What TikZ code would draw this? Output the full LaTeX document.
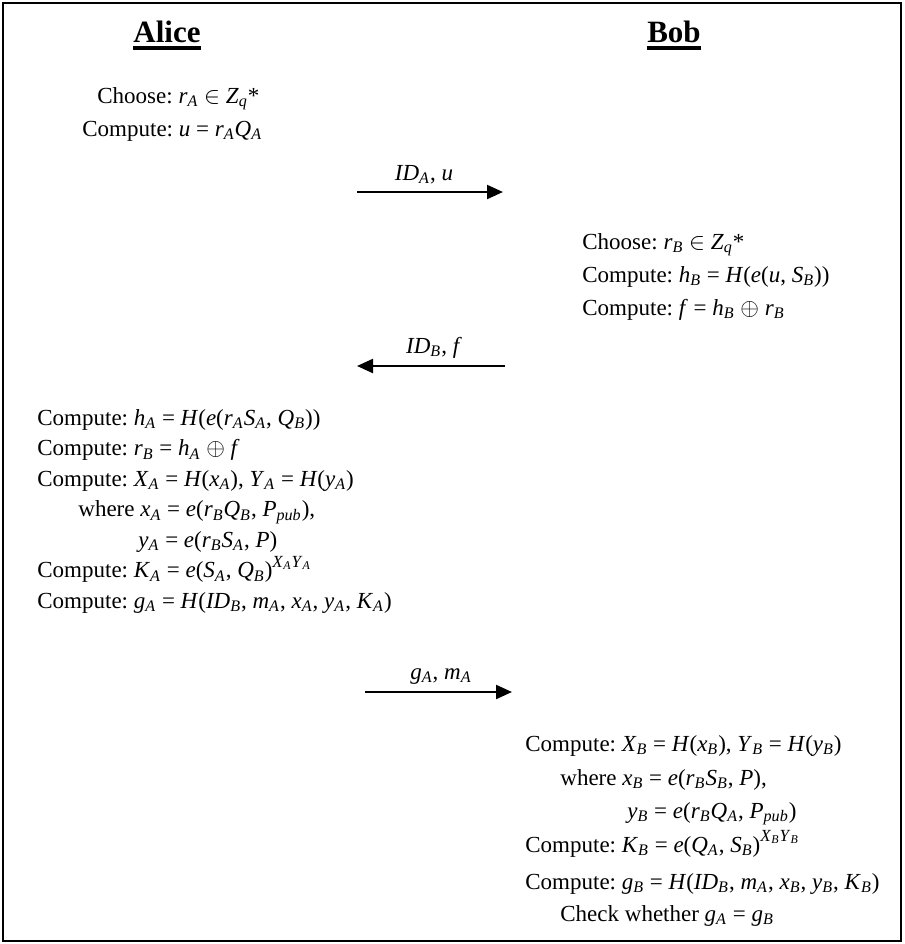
\documentclass[tikz,border=0pt]{standalone}
\usepackage{fontspec}
\setmainfont{Liberation Serif}
\usepackage{tikz}
\usetikzlibrary{arrows.meta}

\newcommand{\vs}[2]{\textit{#1}\textsubscript{\textit{#2}}}
\newcommand{\vi}[1]{\textit{#1}}
\newcommand{\supx}[1]{\raisebox{0.45em}{\fontsize{8.5}{9}\selectfont #1}}
\frenchspacing

\begin{document}
\begin{tikzpicture}[
    x=0.5pt,
    y=-0.5pt,
    head/.style={anchor=base, inner sep=0pt, font=\fontsize{15.5}{18}\selectfont\bfseries},
    txt/.style={anchor=base west, inner sep=0pt, font=\fontsize{11.5}{14}\selectfont},
    lbl/.style={anchor=base, inner sep=0pt, font=\fontsize{11.5}{14}\selectfont},
    msg/.style={-{Triangle[length=8pt, width=7pt]}, line width=1.1pt},
    uline/.style={line width=2pt}
]
\useasboundingbox (0,0) rectangle (905,944);
\draw[line width=0.75pt] (3,3) rectangle (901,941);

\node[head] (alice) at (167,42) {Alice};
\node[head] (bob) at (674,42) {Bob};
\draw[uline] ([yshift=-3pt]alice.base west) -- ([yshift=-3pt]alice.base east);
\draw[uline] ([yshift=-3pt]bob.base west) -- ([yshift=-3pt]bob.base east);

\node[txt] (chooseA) at (97,103) {Choose: \vs{r}{A} $\in$ \vs{Z}{q}*};
\node[txt] (computeU) at (82,136) {Compute: \vi{u} = \vs{r}{A}\vs{Q}{A}};

\coordinate (m1s) at (357,192);
\coordinate (m1e) at (503,192);
\draw[msg] (m1s) -- (m1e);
\node[lbl] (m1) at (424,180) {\vs{ID}{A}, \vi{u}};

\node[txt] (chooseB) at (582,249) {Choose: \vs{r}{B} $\in$ \vs{Z}{q}*};
\node[txt] (computeHB) at (582,282) {Compute: \vs{h}{B} = \vi{H}(\vi{e}(\vi{u}, \vs{S}{B}))};
\node[txt] (computeF) at (582,315) {Compute: \vi{f} = \vs{h}{B} $\oplus$ \vs{r}{B}};

\coordinate (m2s) at (505,366);
\coordinate (m2e) at (357,366);
\draw[msg] (m2s) -- (m2e);
\node[lbl] (m2) at (434,353) {\vs{ID}{B}, \vi{f}};

\node[txt] (computeHA) at (37,425) {Compute: \vs{h}{A} = \vi{H}(\vi{e}(\vs{r}{A}\vs{S}{A}, \vs{Q}{B}))};
\node[txt] (computeRB) at (37,455.5) {Compute: \vs{r}{B} = \vs{h}{A} $\oplus$ \vi{f}};
\node[txt] (computeXA) at (37,486) {Compute: \vs{X}{A} = \vi{H}(\vs{x}{A}), \vs{Y}{A} = \vi{H}(\vs{y}{A})};
\node[txt] (whereXA) at (78,516.5) {where \vs{x}{A} = \vi{e}(\vs{r}{B}\vs{Q}{B}, \vs{P}{pub}),};
\node[txt] (whereYA) at (138,547) {\vs{y}{A} = \vi{e}(\vs{r}{B}\vs{S}{A}, \vi{P})};
\node[txt] (computeKA) at (37,577.5) {Compute: \vs{K}{A} = \vi{e}(\vs{S}{A}, \vs{Q}{B})\supx{\vs{X}{A}\vs{Y}{A}}};
\node[txt] (computeGA) at (37,608) {Compute: \vs{g}{A} = \vi{H}(\vs{ID}{B}, \vs{m}{A}, \vs{x}{A}, \vs{y}{A}, \vs{K}{A})};

\coordinate (m3s) at (365,692);
\coordinate (m3e) at (512,692);
\draw[msg] (m3s) -- (m3e);
\node[lbl] (m3) at (441,679) {\vs{g}{A}, \vs{m}{A}};

\node[txt] (computeXB) at (525,751) {Compute: \vs{X}{B} = \vi{H}(\vs{x}{B}), \vs{Y}{B} = \vi{H}(\vs{y}{B})};
\node[txt] (whereXB) at (560,785) {where \vs{x}{B} = \vi{e}(\vs{r}{B}\vs{S}{B}, \vi{P}),};
\node[txt] (whereYB) at (627,818) {\vs{y}{B} = \vi{e}(\vs{r}{B}\vs{Q}{A}, \vs{P}{pub})};
\node[txt] (computeKB) at (525,852) {Compute: \vs{K}{B} = \vi{e}(\vs{Q}{A}, \vs{S}{B})\supx{\vs{X}{B}\vs{Y}{B}}};
\node[txt] (computeGB) at (525,889) {Compute: \vs{g}{B} = \vi{H}(\vs{ID}{B}, \vs{m}{A}, \vs{x}{B}, \vs{y}{B}, \vs{K}{B})};
\node[txt] (check) at (560,921) {Check whether \vs{g}{A} = \vs{g}{B}};
\end{tikzpicture}
\end{document}
